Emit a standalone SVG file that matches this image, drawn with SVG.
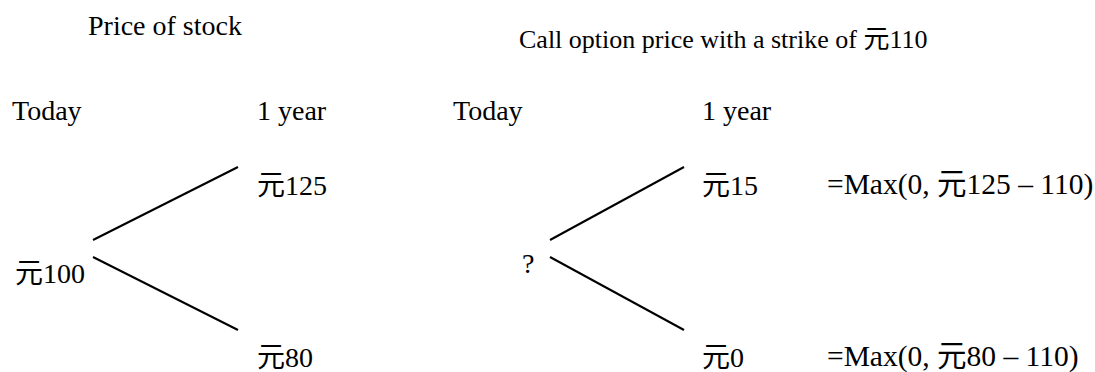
<svg xmlns="http://www.w3.org/2000/svg" width="1095" height="372" viewBox="0 0 1095 372">
<style>
text{font-family:"Liberation Serif","Noto Sans CJK SC",serif;font-size:28px;fill:#000}
.m{font-size:29.5px}
.t{font-size:26px}
.c line{stroke:#000;stroke-width:2}
</style>
<rect width="1095" height="372" fill="#fff"/>
<g id="title-stock"><text x="88" y="35">Price of stock</text></g>
<g id="title-call"><text class="t" x="519" y="48">Call option price with a strike of 元110</text></g>
<g id="hdr-left"><text x="12" y="120">Today</text><text x="257" y="120">1 year</text></g>
<g id="hdr-right"><text x="453" y="120">Today</text><text x="702" y="120">1 year</text></g>
<g id="s0"><text x="15" y="283">元100</text></g>
<g id="s-up"><text x="257" y="195">元125</text></g>
<g id="s-down"><text x="257" y="367">元80</text></g>
<g id="c0"><text x="522" y="273">?</text></g>
<g id="c-up"><text x="702" y="195">元15</text><text class="m" x="827" y="194">=Max(0, 元125 – 110)</text></g>
<g id="c-down"><text x="702" y="367">元0</text><text class="m" x="827" y="366">=Max(0, 元80 – 110)</text></g>
<g class="c" id="connectors">
<line x1="93" y1="240" x2="238" y2="167"/>
<line x1="93" y1="257" x2="238" y2="330"/>
<line x1="550" y1="240" x2="684" y2="167"/>
<line x1="550" y1="257" x2="684" y2="330"/>
</g>
</svg>
